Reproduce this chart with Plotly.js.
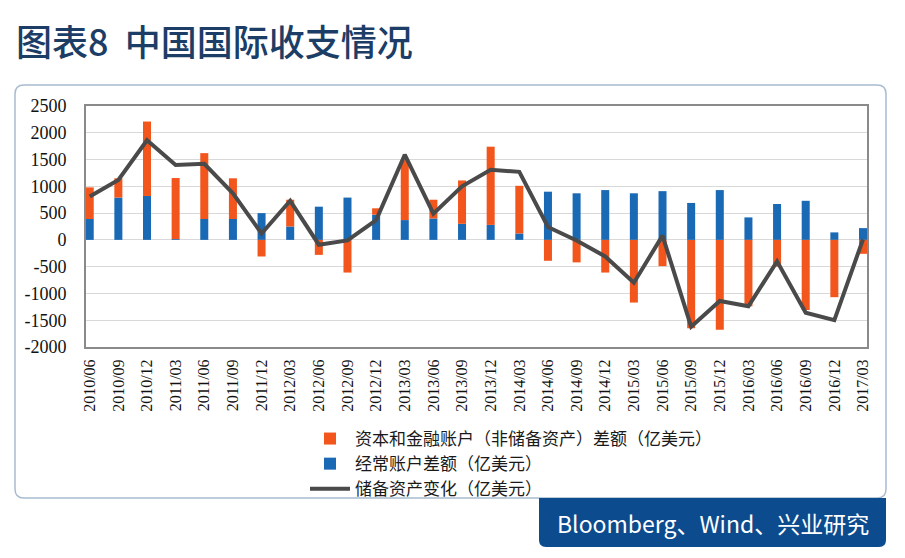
<!DOCTYPE html>
<html><head><meta charset="utf-8">
<script src="https://cdn.plot.ly/plotly-3.0.1.min.js"></script>
<style>html,body{margin:0;padding:0;background:#fff}</style>
</head><body><div id="chart" style="width:905px;height:558px"></div>
<script>
const quarters = ["2010/06","2010/09","2010/12","2011/03","2011/06","2011/09","2011/12","2012/03","2012/06","2012/09","2012/12","2013/03","2013/06","2013/09","2013/12","2014/03","2014/06","2014/09","2014/12","2015/03","2015/06","2015/09","2015/12","2016/03","2016/06","2016/09","2016/12","2017/03"];
const currentAccount = [390, 790, 820, 15, 390, 390, 500, 250, 620, 790, 470, 370, 400, 300, 280, 120, 900, 870, 930, 870, 910, 690, 930, 420, 670, 730, 140, 220];
const capitalFinancial = [590, 360, 1390, 1140, 1230, 760, -310, 500, -280, -610, 120, 1120, 350, 810, 1460, 890, -390, -420, -610, -1170, -490, -1650, -1680, -1240, -500, -1310, -1070, -260];
const reserveChange = [810, 1120, 1860, 1400, 1420, 870, 120, 730, -90, -10, 370, 1590, 490, 1000, 1310, 1270, 240, -10, -310, -800, 80, -1620, -1140, -1240, -400, -1360, -1500, 10];
const seriesNames = ["资本和金融账户（非储备资产）差额（亿美元）", "经常账户差额（亿美元）", "储备资产变化（亿美元）"];
const yTicks = [-2000, -1500, -1000, -500, 0, 500, 1000, 1500, 2000, 2500];

const W = 905, H = 558;
const L = 86, R = 867, T = 106, B = 347;
const pw = R - L, ph = B - T;
const px = x => (x - L) / pw;
const py = y => (B - y) / ph;
function rrect(x0, y0, x1, y1, r, corners) {
  const rx = r / pw, ry = r / ph;
  const X0 = px(x0), X1 = px(x1), Y0 = py(y0), Y1 = py(y1);
  let p = '';
  p += corners[0] ? `M${X0},${Y0 - ry} Q${X0},${Y0} ${X0 + rx},${Y0}` : `M${X0},${Y0}`;
  p += corners[1] ? ` L${X1 - rx},${Y0} Q${X1},${Y0} ${X1},${Y0 - ry}` : ` L${X1},${Y0}`;
  p += corners[2] ? ` L${X1},${Y1 + ry} Q${X1},${Y1} ${X1 - rx},${Y1}` : ` L${X1},${Y1}`;
  p += corners[3] ? ` L${X0 + rx},${Y1} Q${X0},${Y1} ${X0},${Y1 + ry}` : ` L${X0},${Y1}`;
  return p + ' Z';
}

const serif = "'Liberation Serif', 'Times New Roman', Times, serif";
const cjk = "'Noto Sans CJK SC', 'Noto Sans', sans-serif";

const data = [
  { type: 'bar', x: quarters, y: currentAccount, name: seriesNames[1], marker: { color: '#1a69b4' }, legendrank: 2 },
  { type: 'bar', x: quarters, y: capitalFinancial, name: seriesNames[0], marker: { color: '#f2561d' }, legendrank: 1 },
  { type: 'scatter', mode: 'lines', x: quarters, y: reserveChange, name: seriesNames[2], line: { color: '#4a4a4a', width: 4 }, legendrank: 3 }
];

const layout = {
  width: W, height: H,
  margin: { l: L, r: W - R, t: T, b: H - B },
  paper_bgcolor: '#ffffff', plot_bgcolor: '#ffffff',
  barmode: 'relative', bargap: 0.72,
  showlegend: true,
  legend: { x: px(305), y: py(421), xanchor: 'left', yanchor: 'top', traceorder: 'normal',
            font: { family: cjk, size: 17, color: '#1a1a1a' }, tracegroupgap: 0, itemwidth: 40, bgcolor: 'rgba(0,0,0,0)' },
  title: { text: '图表8  中国国际收支情况', xref: 'container', yref: 'container', x: 16 / W, y: 1 - 43 / H,
           xanchor: 'left', yanchor: 'middle', font: { family: cjk, size: 36, color: '#1c3d66', weight: 500 } },
  xaxis: { type: 'category', range: [-0.13, 27.14], tickangle: -90, tickfont: { family: serif, size: 16, color: '#111' },
           showline: true, mirror: true, linecolor: '#8a8a8a', linewidth: 2, showgrid: false, ticks: '', ticklabelstandoff: 4, fixedrange: true },
  yaxis: { range: [-2000, 2500], tickvals: yTicks, ticktext: yTicks.map(String), tickfont: { family: serif, size: 18, color: '#111' },
           showline: true, mirror: true, linecolor: '#8a8a8a', linewidth: 2, gridcolor: '#d9d9d9', gridwidth: 1,
           zeroline: false, ticks: '', ticklabelstandoff: 14, fixedrange: true },
  shapes: [
    { type: 'path', xref: 'paper', yref: 'paper', layer: 'below', path: rrect(15, 85, 886, 498, 9, [true, true, true, true]),
      line: { color: '#a8bccf', width: 1.5 }, fillcolor: 'rgba(255,255,255,0)' },
    { type: 'path', xref: 'paper', yref: 'paper', layer: 'above', path: rrect(539, 498, 886, 547, 7, [false, false, true, true]),
      line: { width: 0 }, fillcolor: '#0c4b8e' }
  ],
  annotations: [
    { xref: 'paper', yref: 'paper', x: px(713), y: py(523), xanchor: 'center', yanchor: 'middle', showarrow: false,
      text: 'Bloomberg、Wind、兴业研究', font: { family: cjk, size: 23, color: '#ffffff' } }
  ]
};

Plotly.newPlot('chart', data, layout, { displayModeBar: false, staticPlot: true });
</script></body></html>
